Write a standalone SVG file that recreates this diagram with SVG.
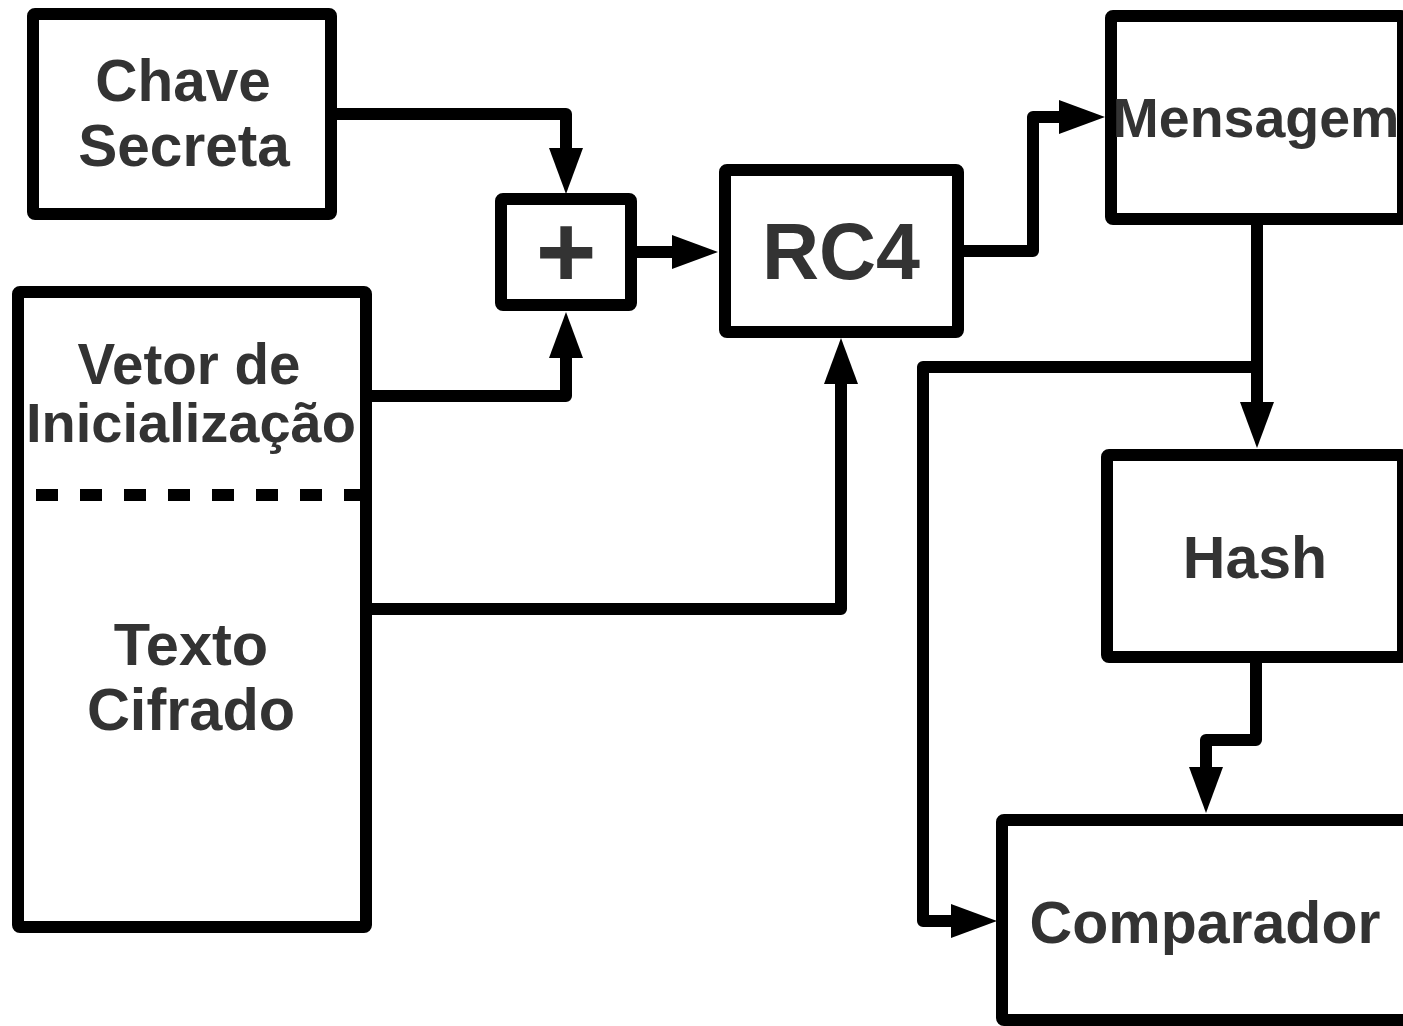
<svg xmlns="http://www.w3.org/2000/svg" width="1403" height="1026" viewBox="0 0 1403 1026">
  <style>
    .box { fill: #ffffff; stroke: #000000; stroke-width: 12; stroke-linejoin: round; }
    .lbl { font-family: "Liberation Sans", Arial, sans-serif; font-weight: bold; fill: #333333; text-anchor: middle; }
    .wire { fill: none; stroke: #000000; stroke-width: 12; stroke-linejoin: round; }
    .dash { fill: none; stroke: #000000; stroke-width: 12; stroke-dasharray: 22 22; }
  </style>
  <defs>
    <marker id="arr" markerUnits="userSpaceOnUse" markerWidth="46" markerHeight="34" refX="2" refY="17" orient="auto">
      <path d="M0,0 L46,17 L0,34 Z" fill="#000000"/>
    </marker>
  </defs>
  <rect width="1403" height="1026" fill="#ffffff"/>

  <g id="connectors">
    <path class="wire" d="M337,114 H566 V150" marker-end="url(#arr)"/>
    <path class="wire" d="M372,396 H566 V356" marker-end="url(#arr)"/>
    <path class="wire" d="M372,609 H841 V382" marker-end="url(#arr)"/>
    <path class="wire" d="M637,252 H674" marker-end="url(#arr)"/>
    <path class="wire" d="M963,251 H1033 V117 H1061" marker-end="url(#arr)"/>
    <path class="wire" d="M1257,225 V404" marker-end="url(#arr)"/>
    <path class="wire" d="M1257,367 H923 V921 H953" marker-end="url(#arr)"/>
    <path class="wire" d="M1256,663 V740 H1206 V769" marker-end="url(#arr)"/>
  </g>

  <g id="chave">
    <rect class="box" x="33" y="14" width="298" height="200" rx="2"/>
    <text class="lbl" x="183" y="101" font-size="58.5">Chave</text>
    <text class="lbl" x="184" y="166" font-size="58.5">Secreta</text>
  </g>

  <g id="pacote">
    <rect class="box" x="18" y="292" width="348" height="635" rx="2"/>
    <line class="dash" x1="36" y1="495" x2="362" y2="495"/>
    <text class="lbl" x="189" y="384" font-size="56.5">Vetor de</text>
    <text class="lbl" x="191" y="442" font-size="56">Inicialização</text>
    <text class="lbl" x="191" y="665" font-size="59.5">Texto</text>
    <text class="lbl" x="191" y="730" font-size="59.5">Cifrado</text>
  </g>

  <g id="soma">
    <rect class="box" x="501" y="199" width="130" height="106" rx="2"/>
    <text class="lbl" x="566" y="287" font-size="104">+</text>
  </g>

  <g id="rc4">
    <rect class="box" x="725" y="170" width="233" height="162" rx="2"/>
    <text class="lbl" x="841" y="279" font-size="79">RC4</text>
  </g>

  <g id="mensagem">
    <rect class="box" x="1111" y="16" width="292" height="203" rx="2"/>
    <text class="lbl" x="1256" y="137" font-size="55.5">Mensagem</text>
  </g>

  <g id="hash">
    <rect class="box" x="1107" y="455" width="296" height="202" rx="2"/>
    <text class="lbl" x="1255" y="578" font-size="59">Hash</text>
  </g>

  <g id="comparador">
    <rect class="box" x="1002" y="820" width="412" height="200" rx="2"/>
    <text class="lbl" x="1205" y="943" font-size="59">Comparador</text>
  </g>
</svg>
